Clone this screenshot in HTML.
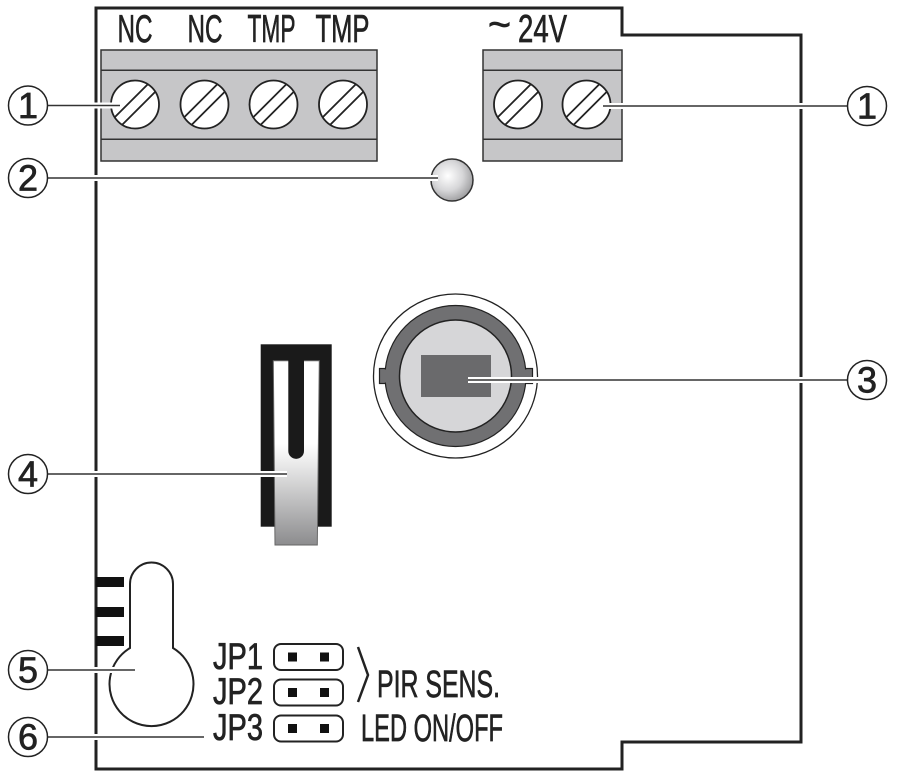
<!DOCTYPE html>
<html>
<head>
<meta charset="utf-8">
<style>
  html,body{margin:0;padding:0;background:#fff;}
  svg{display:block;}
  text{font-family:"Liberation Sans",sans-serif;fill:#222;stroke:#222;stroke-width:0.7px;}
</style>
</head>
<body>
<svg width="897" height="779" viewBox="0 0 897 779" xmlns="http://www.w3.org/2000/svg">
  <defs>
    <radialGradient id="led" cx="0.4" cy="0.4" r="0.65">
      <stop offset="0" stop-color="#ffffff"/>
      <stop offset="0.55" stop-color="#d6d6d8"/>
      <stop offset="1" stop-color="#9a9a9c"/>
    </radialGradient>
    <linearGradient id="lever" x1="0" y1="0" x2="0" y2="1">
      <stop offset="0" stop-color="#ffffff"/>
      <stop offset="0.45" stop-color="#ffffff"/>
      <stop offset="0.55" stop-color="#ececec"/>
      <stop offset="1" stop-color="#8c8c8e"/>
    </linearGradient>
  </defs>

  <!-- board outline -->
  <path d="M96,8 L622,8 L622,35 L801,35 L801,742 L622,742 L622,769 L96,769 Z" fill="none" stroke="#222" stroke-width="3"/>

  <!-- labels top -->
  <text x="117.5" y="42" font-size="39" textLength="35" lengthAdjust="spacingAndGlyphs">NC</text>
  <text x="187.5" y="42" font-size="39" textLength="35" lengthAdjust="spacingAndGlyphs">NC</text>
  <text x="247.5" y="42" font-size="39" textLength="48" lengthAdjust="spacingAndGlyphs">TMP</text>
  <text x="315.5" y="42" font-size="39" textLength="54" lengthAdjust="spacingAndGlyphs">TMP</text>
  <text x="488" y="38" font-size="40" textLength="23" lengthAdjust="spacingAndGlyphs">~</text>
  <text x="518" y="42" font-size="39" textLength="49" lengthAdjust="spacingAndGlyphs">24V</text>

  <!-- left terminal block -->
  <rect x="101" y="50" width="276" height="111" fill="#c6c6c8" stroke="#333" stroke-width="1.5"/>
  <line x1="101" y1="70.3" x2="377" y2="70.3" stroke="#333" stroke-width="1.5"/>
  <line x1="101" y1="139.3" x2="377" y2="139.3" stroke="#333" stroke-width="1.5"/>
  <!-- right terminal block -->
  <rect x="483" y="50" width="139" height="111" fill="#c6c6c8" stroke="#333" stroke-width="1.5"/>
  <line x1="483" y1="70.3" x2="622" y2="70.3" stroke="#333" stroke-width="1.5"/>
  <line x1="483" y1="139.3" x2="622" y2="139.3" stroke="#333" stroke-width="1.5"/>

  <!-- screws -->
  <g stroke="#222" stroke-width="1.8" fill="#fff">
    <g transform="translate(135,104.5)"><circle r="24"/><g transform="rotate(-45)"><line x1="-23.4" y1="-5.3" x2="23.4" y2="-5.3"/><line x1="-23.4" y1="5.3" x2="23.4" y2="5.3"/></g></g>
    <g transform="translate(204.5,104.5)"><circle r="24"/><g transform="rotate(-45)"><line x1="-23.4" y1="-5.3" x2="23.4" y2="-5.3"/><line x1="-23.4" y1="5.3" x2="23.4" y2="5.3"/></g></g>
    <g transform="translate(273.5,104.5)"><circle r="24"/><g transform="rotate(-45)"><line x1="-23.4" y1="-5.3" x2="23.4" y2="-5.3"/><line x1="-23.4" y1="5.3" x2="23.4" y2="5.3"/></g></g>
    <g transform="translate(343,104.5)"><circle r="24"/><g transform="rotate(-45)"><line x1="-23.4" y1="-5.3" x2="23.4" y2="-5.3"/><line x1="-23.4" y1="5.3" x2="23.4" y2="5.3"/></g></g>
    <g transform="translate(518,104.5)"><circle r="24"/><g transform="rotate(-45)"><line x1="-23.4" y1="-5.3" x2="23.4" y2="-5.3"/><line x1="-23.4" y1="5.3" x2="23.4" y2="5.3"/></g></g>
    <g transform="translate(586.5,104.5)"><circle r="24"/><g transform="rotate(-45)"><line x1="-23.4" y1="-5.3" x2="23.4" y2="-5.3"/><line x1="-23.4" y1="5.3" x2="23.4" y2="5.3"/></g></g>
  </g>

  <!-- LED -->
  <circle cx="452" cy="180" r="21" fill="url(#led)" stroke="#333" stroke-width="1.5"/>

  <!-- PIR sensor -->
  <circle cx="455.5" cy="376" r="82" fill="#fff" stroke="#222" stroke-width="1.3"/>
  <rect x="379.5" y="368.5" width="12" height="15" fill="#707072" stroke="#222" stroke-width="1.2"/>
  <rect x="520" y="368.5" width="12.5" height="15" fill="#707072" stroke="#222" stroke-width="1.2"/>
  <circle cx="455.5" cy="376" r="70.5" fill="#707072" stroke="#222" stroke-width="1.2"/>
  <rect x="383" y="369.5" width="10" height="13" fill="#707072"/>
  <rect x="518" y="369.5" width="10" height="13" fill="#707072"/>
  <circle cx="455.5" cy="376" r="56" fill="#d6d6d8" stroke="#222" stroke-width="1.5"/>
  <rect x="421" y="355" width="70" height="42" fill="#6a6a6c"/>

  <!-- switch -->
  <rect x="260.7" y="344.3" width="71" height="182.4" fill="#1a1a1a"/>
  <path d="M273.3,360.7 L319.3,360.7 L317.3,545 L275,545 Z" fill="url(#lever)" stroke="#666" stroke-width="1"/>
  <path d="M288.3,360 L304,360 L304,451 A7.85,7.85 0 0 1 288.3,451 Z" fill="#1a1a1a"/>

  <!-- keyhole -->
  <path d="M130,648 L130,584 A21.5,21.5 0 0 1 173,584 L173,648 A42,42 0 1 1 130,648 Z" fill="#fff" stroke="#222" stroke-width="2"/>
  <rect x="96" y="577" width="28" height="10" fill="#111"/>
  <rect x="96" y="607" width="28" height="10" fill="#111"/>
  <rect x="96" y="636" width="28" height="10" fill="#111"/>

  <!-- jumpers -->
  <g stroke="#222" stroke-width="2" fill="#fff">
    <rect x="274" y="644" width="69" height="26" rx="7"/>
    <rect x="274" y="679.5" width="69" height="26" rx="7"/>
    <rect x="274" y="715.5" width="69" height="26" rx="7"/>
  </g>
  <g fill="#111">
    <rect x="288" y="652.5" width="9" height="9"/><rect x="320" y="652.5" width="9" height="9"/>
    <rect x="288" y="688" width="9" height="9"/><rect x="320" y="688" width="9" height="9"/>
    <rect x="288" y="724" width="9" height="9"/><rect x="320" y="724" width="9" height="9"/>
  </g>
  <text x="213" y="669" font-size="37" textLength="50" lengthAdjust="spacingAndGlyphs">JP1</text>
  <text x="213" y="704" font-size="37" textLength="50" lengthAdjust="spacingAndGlyphs">JP2</text>
  <text x="213" y="740" font-size="37" textLength="50" lengthAdjust="spacingAndGlyphs">JP3</text>
  <polyline points="358,647 368,675 358,702" fill="none" stroke="#222" stroke-width="2.5"/>
  <text x="377" y="697" font-size="38" textLength="123" lengthAdjust="spacingAndGlyphs">PIR SENS.</text>
  <text x="361" y="741" font-size="38" textLength="142" lengthAdjust="spacingAndGlyphs">LED ON/OFF</text>

  <!-- leader lines (white halo + dark line) -->
  <g stroke="#fff" stroke-width="6" fill="none">
    <line x1="49" y1="105.5" x2="120" y2="105.5"/>
    <line x1="49" y1="178" x2="438" y2="178"/>
    <line x1="49" y1="474" x2="287" y2="474"/>
    <line x1="49" y1="670" x2="135" y2="670"/>
    <line x1="49" y1="737" x2="204" y2="737"/>
    <line x1="603" y1="106" x2="846" y2="106"/>
    <line x1="468" y1="380" x2="846" y2="380"/>
  </g>
  <g stroke="#333" stroke-width="1.6" fill="none">
    <line x1="47" y1="105.5" x2="120" y2="105.5"/>
    <line x1="47" y1="178" x2="438" y2="178"/>
    <line x1="47" y1="474" x2="287" y2="474"/>
    <line x1="47" y1="670" x2="135" y2="670"/>
    <line x1="47" y1="737" x2="204" y2="737"/>
    <line x1="603" y1="106" x2="847" y2="106"/>
    <line x1="468" y1="380" x2="847" y2="380"/>
  </g>

  <!-- callout circles -->
  <g fill="#fff" stroke="#222" stroke-width="1.5">
    <circle cx="28" cy="105.5" r="19.5"/>
    <circle cx="28" cy="178" r="19.5"/>
    <circle cx="28" cy="474" r="19.5"/>
    <circle cx="28" cy="670" r="19.5"/>
    <circle cx="28" cy="737" r="19.5"/>
    <circle cx="867" cy="106" r="19.5"/>
    <circle cx="867" cy="380" r="19.5"/>
  </g>
  <g font-size="36" text-anchor="middle">
    <text x="28" y="118">1</text>
    <text x="28" y="190.5">2</text>
    <text x="28" y="486.5">4</text>
    <text x="28" y="682.5">5</text>
    <text x="28" y="749.5">6</text>
    <text x="867" y="118.5">1</text>
    <text x="867" y="392.5">3</text>
  </g>
</svg>
</body>
</html>
